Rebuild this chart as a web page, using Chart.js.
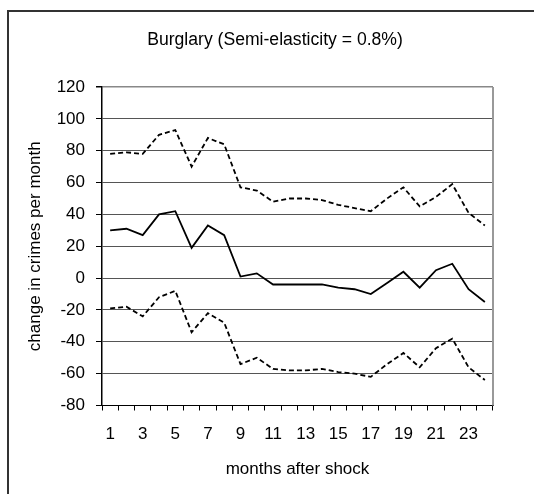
<!DOCTYPE html>
<html>
<head>
<meta charset="utf-8">
<script src="https://cdn.jsdelivr.net/npm/chart.js@4/dist/chart.umd.min.js"></script>
<style>
  html, body { margin: 0; padding: 0; background: #fff; }
  canvas { display: block; }
</style>
</head>
<body>
<canvas id="chart" width="534" height="494"></canvas>
<script>
// Months after the shock (category axis)
const months = ['1','2','3','4','5','6','7','8','9','10','11','12',
                '13','14','15','16','17','18','19','20','21','22','23','24'];

// Point estimate of the change in burglaries per month
const estimate = [30, 31, 27, 40, 42, 19, 33, 27, 1, 3, -4, -4,
                  -4, -4, -6, -7, -10, -3, 4, -6, 5, 9, -7, -15];

// Upper and lower confidence bands
const upperBound = [78, 79, 78, 90, 93, 70, 88, 84, 57, 55, 48, 50,
                    50, 49, 46, 44, 42, 50, 57, 45, 51, 59, 41, 33];
const lowerBound = [-19, -18, -24, -12, -8, -34, -22, -28, -54, -50, -57, -58,
                    -58, -57, -59, -60, -62, -54, -47, -56, -44, -38, -56, -64];

// Value axis range
const yMin = -80;
const yMax = 120;
const yStep = 20;

const FONT = "'Liberation Sans', Arial, sans-serif";
const textFont = { family: FONT, size: 17, weight: 'normal' };

// Outer frame of the figure and the grey right edge of the plot area
const framePlugin = {
  id: 'framePlugin',
  afterDraw(chart) {
    const { ctx, chartArea: a } = chart;
    ctx.save();
    ctx.strokeStyle = '#333';
    ctx.lineWidth = 2;
    ctx.strokeRect(8, 11, 700, 700);
    ctx.strokeStyle = '#999';
    ctx.lineWidth = 2;
    ctx.beginPath();
    ctx.moveTo(a.right, a.top);
    ctx.lineTo(a.right, a.bottom);
    ctx.stroke();
    ctx.restore();
  }
};

const dashed = {
  borderColor: '#000',
  borderWidth: 1.8,
  borderDash: [5, 3],
  pointRadius: 0,
  tension: 0,
  fill: false
};

new Chart(document.getElementById('chart'), {
  type: 'line',
  data: {
    labels: months,
    datasets: [
      Object.assign({ label: 'upper', data: upperBound }, dashed),
      { label: 'estimate', data: estimate, borderColor: '#000', borderWidth: 1.8,
        pointRadius: 0, tension: 0, fill: false },
      Object.assign({ label: 'lower', data: lowerBound }, dashed)
    ]
  },
  options: {
    responsive: false,
    animation: false,
    devicePixelRatio: 1,
    layout: { padding: { left: 57, right: 41, top: 0, bottom: 0 } },
    plugins: {
      legend: { display: false },
      tooltip: { enabled: false },
      title: {
        display: true,
        text: 'Burglary (Semi-elasticity = 0.8%)',
        color: '#000',
        font: { family: FONT, size: 17.6, weight: 'normal' },
        padding: { top: 29.5, bottom: 36.4 }
      }
    },
    scales: {
      x: {
        offset: true,
        grid: { offset: true, drawOnChartArea: false, drawTicks: true,
                tickLength: 5, tickColor: '#000' },
        border: { color: '#000', width: 1 },
        ticks: {
          autoSkip: false, maxRotation: 0, padding: 14, color: '#000', font: textFont,
          callback: (v, i) => (i % 2 === 0 ? months[i] : '')
        },
        title: { display: true, text: 'months after shock', color: '#000',
                 font: textFont, padding: { top: 0, bottom: 14 } },
        afterFit(scale) { scale.height = 494 - 405.5; }
      },
      y: {
        min: yMin,
        max: yMax,
        ticks: { stepSize: yStep, padding: 11, color: '#000', font: textFont },
        grid: {
          color: (c) => (c.tick && c.tick.value === yMax ? '#888' : '#555'),
          lineWidth: (c) => (c.tick && c.tick.value === yMax ? 1.5 : 1),
          tickLength: 6,
          tickColor: '#000'
        },
        border: { color: '#000', width: 1.5 },
        // the axis title sits left of the scale box, in the figure margin
        title: { display: true, text: 'change in crimes per month', color: '#000',
                 font: textFont, padding: { top: -32.2, bottom: 0 } },
        afterFit(scale) { scale.width = 45; }
      }
    }
  },
  plugins: [framePlugin]
});
</script>
</body>
</html>
